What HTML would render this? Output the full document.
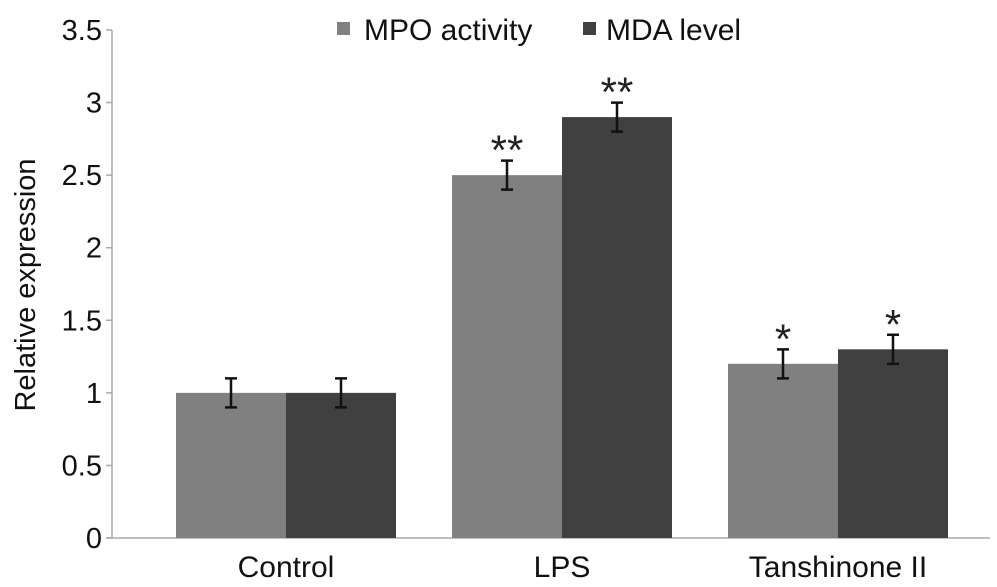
<!DOCTYPE html>
<html><head><meta charset="utf-8"><style>body{margin:0;background:#fff}svg{display:block;font-family:"Liberation Sans",sans-serif}</style></head>
<body>
<svg id="c" width="997" height="587" viewBox="0 0 997 587"></svg>
<script>
const categories=["Control","LPS","Tanshinone II"];
const mpo=[1.0,2.5,1.2];
const mda=[1.0,2.9,1.3];
const mpoErr=[0.1,0.1,0.1];
const mdaErr=[0.1,0.1,0.1];
const mpoSig=["","**","*"];
const mdaSig=["","**","*"];
const ticks=[0,0.5,1,1.5,2,2.5,3,3.5];
const tickLabels=["0","0.5","1","1.5","2","2.5","3","3.5"];
const ns="http://www.w3.org/2000/svg",svg=document.getElementById('c');
const y0=538,y1=30,ymax=3.5;
const y=v=>y0-(v/ymax)*(y0-y1);
const gx=i=>286+i*276;
function el(t,a,txt){const e=document.createElementNS(ns,t);for(const k in a)e.setAttribute(k,a[k]);if(txt!=null)e.textContent=txt;svg.appendChild(e);return e;}
let a=el('line',{x1:112,y1:y(0),x2:112,y2:y(ymax),stroke:'#aaa','stroke-width':1.5});

a=el('line',{x1:106,y1:y(0),x2:990,y2:y(0),stroke:'#aaa','stroke-width':1.5});

ticks.forEach((t,i)=>{
 let l=el('line',{x1:106,y1:y(t),x2:112,y2:y(t),stroke:'#aaa','stroke-width':1.5});
 
 let tx=el('text',{x:102,y:y(t)+10,'text-anchor':'end','font-size':29,fill:'#111'},tickLabels[i]);
 
});
let yt=el('text',{x:0,y:0,transform:'translate(35,285) rotate(-90)','text-anchor':'middle','font-size':29,fill:'#111'},'Relative expression');

const bw=110;
function bar(cx,v,e,s,col,name){
 let r=el('rect',{x:cx,y:y(v),width:bw,height:y(0)-y(v),fill:col});
 
 const m=cx+bw/2;
 let g=el('path',{d:`M${m} ${y(v+e)}V${y(v-e)}M${m-6} ${y(v+e)}H${m+6}M${m-6} ${y(v-e)}H${m+6}`,stroke:'#111','stroke-width':2.5,fill:'none'});
 
 if(s){let st=el('text',{x:m,y:y(v+e)+4,'text-anchor':'middle','font-size':42,fill:'#222'},s);
 }
}
categories.forEach((c,i)=>{
 bar(gx(i)-bw,mpo[i],mpoErr[i],mpoSig[i],'#808080','bar-mpo-'+i);
 bar(gx(i),mda[i],mdaErr[i],mdaSig[i],'#404040','bar-mda-'+i);
 let t=el('text',{x:gx(i),y:577,'text-anchor':'middle','font-size':30,fill:'#111'},c);
 
});
let r=el('rect',{x:337,y:22,width:13,height:13,fill:'#808080'});
let t=el('text',{x:364,y:40,'font-size':30,fill:'#111'},'MPO activity');
r=el('rect',{x:583,y:22,width:13,height:13,fill:'#404040'});
t=el('text',{x:606,y:40,'font-size':30,fill:'#111'},'MDA level');
</script>
</body></html>
